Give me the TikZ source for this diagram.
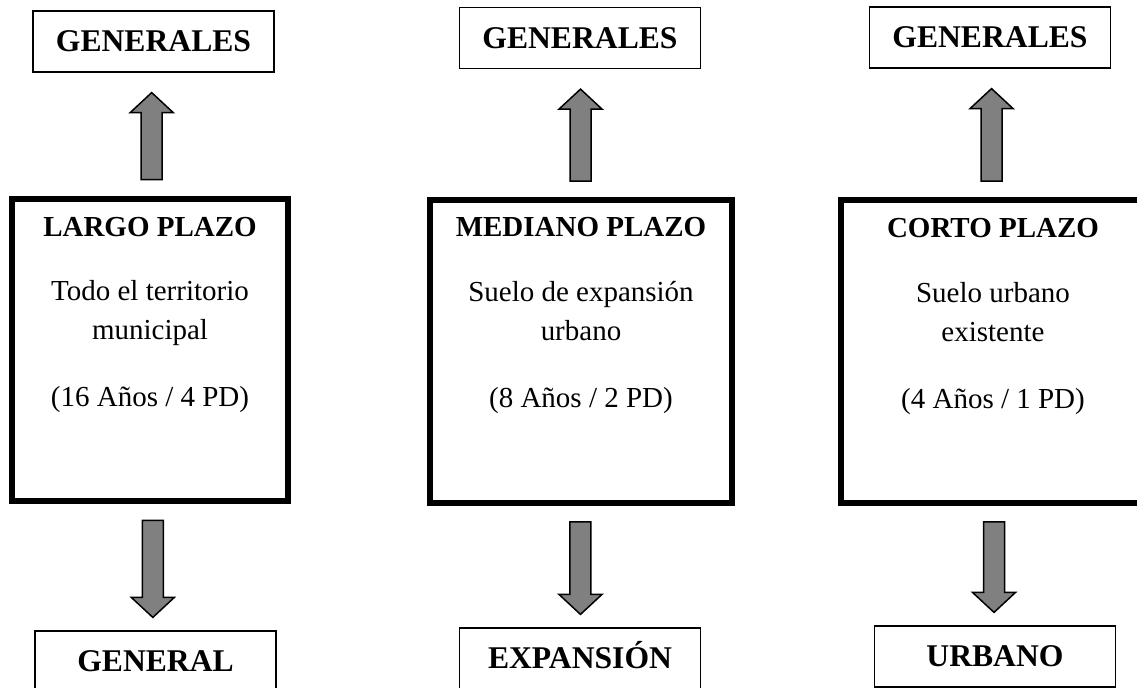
\documentclass[tikz,border=0pt]{standalone}
\usepackage{fontspec}
\setmainfont{Liberation Serif}
\usetikzlibrary{calc}

\begin{document}
\begin{tikzpicture}[x=0.02cm,y=-0.02cm,
  bloque/.style 2 args={to path={
    let \p1=($(\tikztostart)!#1!(\tikztotarget)$),
        \p2=($(\tikztotarget)!#2!(\tikztostart)$),
        \p3=($(\p2)!0.4cm!(\p1)$),
        \p4=($(\p1)!0.5!(\p2)$) in
    (\x4-0.21cm,\y1) -- (\x4-0.21cm,\y3) -- (\x4-0.43cm,\y3) -- (\x4,\y2)
    -- (\x4+0.43cm,\y3) -- (\x4+0.21cm,\y3) -- (\x4+0.21cm,\y1) -- cycle}}]
\tikzstyle{caja}=[draw, line width=0.7pt, minimum width=4.82cm, minimum height=1.22cm, inner sep=0pt, text height=11.9pt, text depth=0pt, font=\fontsize{18}{21}\selectfont\bfseries]
\tikzstyle{grande}=[draw, line width=3.4pt, minimum height=6.06cm, inner sep=0pt]
\tikzstyle{texto}=[align=center, inner sep=0pt, anchor=north, font=\fontsize{16.5}{22.2}\selectfont]
\tikzstyle{flecha}=[draw=black, fill=gray, line width=0.85pt]
\useasboundingbox (0,0) rectangle (1137,687);
\clip (0,0) rectangle (1137,687);
% cajas superiores
\draw (153.5,41.5) node (gen1) [caja] {GENERALES};
\draw (580,38) node (gen2) [caja] {GENERALES};
\draw (990,37.5) node (gen3) [caja] {GENERALES};
% plazos
\draw (150,350) node (largo) [grande, minimum width=5.52cm] {};
\draw (581,351.5) node (mediano) [grande, minimum width=6.04cm] {};
\draw (993,351.5) node (corto) [grande, minimum width=6.08cm] {};
\node (largo-t) [texto] at ($(largo.north)+(0,21)$) {\textbf{LARGO PLAZO}\\[14.5pt] Todo el territorio\\ municipal\\[16pt] (16 Años / 4 PD)};
\node (mediano-t) [texto] at ($(mediano.north)+(0,20)$) {\textbf{MEDIANO PLAZO}\\[14.5pt] Suelo de expansión\\ urbano\\[16pt] (8 Años / 2 PD)};
\node (corto-t) [texto] at ($(corto.north)+(0,21)$) {\textbf{CORTO PLAZO}\\[14.5pt] Suelo urbano\\ existente\\[16pt] (4 Años / 1 PD)};
% cajas inferiores
\draw (155.5,661.5) node (general) [caja] {GENERAL};
\draw (580,658.5) node (expansion) [caja] {EXPANSIÓN};
\draw (995,656.5) node (urbano) [caja] {URBANO};
% flechas
\draw[flecha] (largo.north) to[bloque={0.32cm}{0.4cm}] (gen1.south);
\draw[flecha] (mediano.north) to[bloque={0.32cm}{0.4cm}] (gen2.south);
\draw[flecha] (corto.north) to[bloque={0.32cm}{0.4cm}] (gen3.south);
\draw[flecha] (largo.south) to[bloque={0.32cm}{0.26cm}] (general.north);
\draw[flecha] (mediano.south) to[bloque={0.32cm}{0.26cm}] (expansion.north);
\draw[flecha] (corto.south) to[bloque={0.32cm}{0.26cm}] (urbano.north);
\end{tikzpicture}
\end{document}
